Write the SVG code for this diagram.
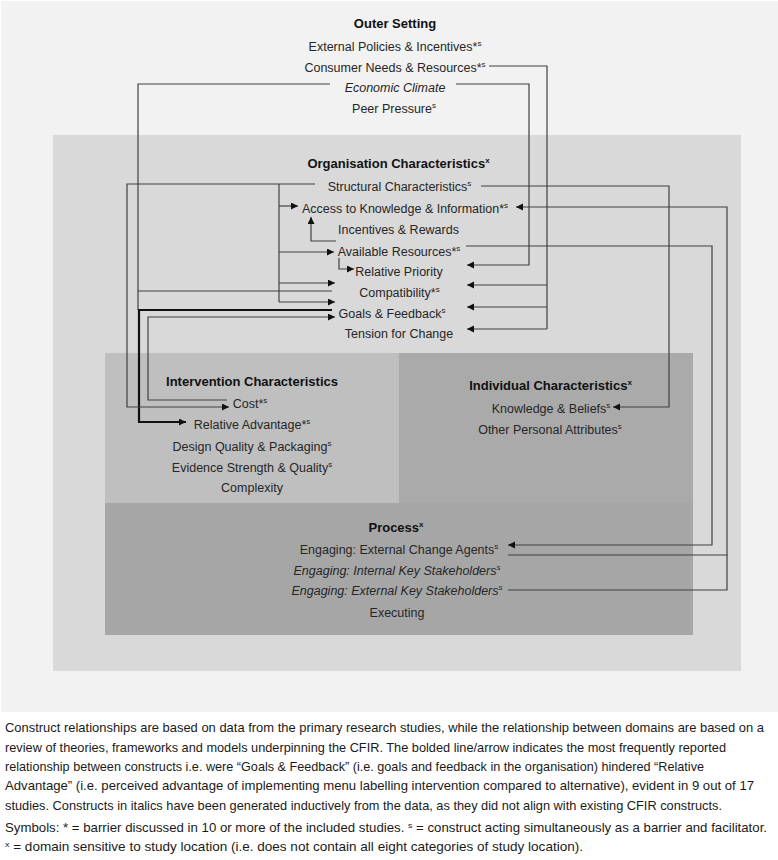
<svg xmlns="http://www.w3.org/2000/svg" width="778" height="860" viewBox="0 0 778 860">
<style>
text{font-family:"Liberation Sans",Arial,sans-serif;fill:#262626;}
.t{font-size:13px;font-weight:bold;fill:#111;text-anchor:middle;}
.c{font-size:12.5px;text-anchor:middle;}
.i{font-style:italic;}
.cap{font-size:12.2px;fill:#1a1a1a;}
.sup{font-size:8px;}
.ln{fill:none;stroke:#404040;stroke-width:1.2;}
.ar{marker-end:url(#ah);}
.bold{fill:none;stroke:#111;stroke-width:2.2;}
</style>
<defs>
<marker id="ah" markerUnits="userSpaceOnUse" markerWidth="8" markerHeight="8" refX="7" refY="3.5" orient="auto">
<path d="M0,0 L7,3.5 L0,7 z" fill="#111"/>
</marker>
</defs>
<rect x="0" y="0" width="778" height="860" fill="#ffffff"/>
<g id="outer-setting">
<rect x="1" y="1" width="777" height="711" fill="#f2f2f2"/>
<text class="t" x="395" y="28">Outer Setting</text>
<text class="c" x="395" y="50.5">External Policies &amp; Incentives*<tspan class="sup" dy="-5">s</tspan></text>
<text class="c" x="395" y="71.5">Consumer Needs &amp; Resources*<tspan class="sup" dy="-5">s</tspan></text>
<text class="c i" x="395" y="92">Economic Climate</text>
<text class="c" x="394" y="112.5">Peer Pressure<tspan class="sup" dy="-5">s</tspan></text>
</g>
<g id="organisation-characteristics">
<rect x="53" y="135" width="688" height="536" fill="#d9d9d9"/>
<text class="t" x="398.5" y="168">Organisation Characteristics<tspan class="sup" dy="-5">x</tspan></text>
<text class="c" x="399.5" y="190.5">Structural Characteristics<tspan class="sup" dy="-5">s</tspan></text>
<text class="c" x="405" y="212.5">Access to Knowledge &amp; Information*<tspan class="sup" dy="-5">s</tspan></text>
<text class="c" x="398.5" y="233.5">Incentives &amp; Rewards</text>
<text class="c" x="399" y="255.5">Available Resources*<tspan class="sup" dy="-5">s</tspan></text>
<text class="c" x="399" y="275.5">Relative Priority</text>
<text class="c" x="399.5" y="296.5">Compatibility*<tspan class="sup" dy="-5">s</tspan></text>
<text class="c" x="392" y="317.5">Goals &amp; Feedback<tspan class="sup" dy="-5">s</tspan></text>
<text class="c" x="399" y="337.5">Tension for Change</text>
</g>
<g id="intervention-characteristics">
<rect x="105" y="353" width="294" height="150" fill="#bfbfbf"/>
<text class="t" x="252" y="386">Intervention Characteristics</text>
<text class="c" x="250" y="407.5">Cost*<tspan class="sup" dy="-5">s</tspan></text>
<text class="c" x="252" y="428.5">Relative Advantage*<tspan class="sup" dy="-5">s</tspan></text>
<text class="c" x="252" y="450.5">Design Quality &amp; Packaging<tspan class="sup" dy="-5">s</tspan></text>
<text class="c" x="252" y="471.5">Evidence Strength &amp; Quality<tspan class="sup" dy="-5">s</tspan></text>
<text class="c" x="252" y="491.5">Complexity</text>
</g>
<g id="individual-characteristics">
<rect x="399" y="353" width="294" height="150" fill="#aaaaaa"/>
<text class="t" x="550.5" y="390">Individual Characteristics<tspan class="sup" dy="-5">x</tspan></text>
<text class="c" x="551" y="412.5">Knowledge &amp; Beliefs<tspan class="sup" dy="-5">s</tspan></text>
<text class="c" x="550" y="433.5">Other Personal Attributes<tspan class="sup" dy="-5">s</tspan></text>
</g>
<g id="process">
<rect x="105" y="503" width="588" height="132" fill="#a6a6a6"/>
<text class="t" x="396" y="531.5">Process<tspan class="sup" dy="-5">x</tspan></text>
<text class="c" x="399" y="553.5">Engaging: External Change Agents<tspan class="sup" dy="-5">s</tspan></text>
<text class="c i" x="397" y="574.5">Engaging: Internal Key Stakeholders<tspan class="sup" dy="-5">s</tspan></text>
<text class="c i" x="397" y="595">Engaging: External Key Stakeholders<tspan class="sup" dy="-5">s</tspan></text>
<text class="c" x="397" y="616.5">Executing</text>
</g>
<g id="connectors">
<path class="ln" d="M489,66 H547 V329"/>
<path class="ln ar" d="M547,285 H467"/>
<path class="ln ar" d="M547,307 H467"/>
<path class="ln ar" d="M547,329 H467"/>
<path class="ln ar" d="M456,84 H529 V265 H467"/>
<path class="ln" d="M330,84 H138 V310"/>
<path class="ln" d="M138,291 H332"/>
<path class="bold ar" d="M332,310 H139 V422 H186"/>
<path class="ln ar" d="M315,184 H127 V407 H229"/>
<path class="ln" d="M279,184 V302"/>
<path class="ln ar" d="M279,206 H298"/>
<path class="ln ar" d="M279,252 H334"/>
<path class="ln ar" d="M279,283 H335"/>
<path class="ln ar" d="M279,302 H335"/>
<path class="ln ar" d="M227,400 H148 V317 H335"/>
<path class="ln ar" d="M336,241 H311 V217"/>
<path class="ln ar" d="M339,258 V269 H354"/>
<path class="ln ar" d="M481,186 H669 V407 H613"/>
<path class="ln ar" d="M466,246 H712 V545 H508"/>
<path class="ln ar" d="M508,555 H727 V207 H516"/>
<path class="ln" d="M508,590 H727 V555"/>
</g>
<g id="caption">
<text class="cap" x="5" y="732" textLength="759" lengthAdjust="spacingAndGlyphs">Construct relationships are based on data from the primary research studies, while the relationship between domains are based on a</text>
<text class="cap" x="5" y="751.5" textLength="721" lengthAdjust="spacingAndGlyphs">review of theories, frameworks and models underpinning the CFIR. The bolded line/arrow indicates the most frequently reported</text>
<text class="cap" x="5" y="771" textLength="699" lengthAdjust="spacingAndGlyphs">relationship between constructs i.e. were “Goals &amp; Feedback” (i.e. goals and feedback in the organisation) hindered “Relative</text>
<text class="cap" x="5" y="790" textLength="749" lengthAdjust="spacingAndGlyphs">Advantage” (i.e. perceived advantage of implementing menu labelling intervention compared to alternative), evident in 9 out of 17</text>
<text class="cap" x="5" y="809.5" textLength="717" lengthAdjust="spacingAndGlyphs">studies. Constructs in italics have been generated inductively from the data, as they did not align with existing CFIR constructs.</text>
<text class="cap" x="5" y="832" textLength="762" lengthAdjust="spacingAndGlyphs">Symbols: * = barrier discussed in 10 or more of the included studies. <tspan class="sup" baseline-shift="super">s</tspan> = construct acting simultaneously as a barrier and facilitator.</text>
<text class="cap" x="5" y="851" textLength="578" lengthAdjust="spacingAndGlyphs"><tspan class="sup" baseline-shift="super">x</tspan> = domain sensitive to study location (i.e. does not contain all eight categories of study location).</text>
</g>
</svg>
